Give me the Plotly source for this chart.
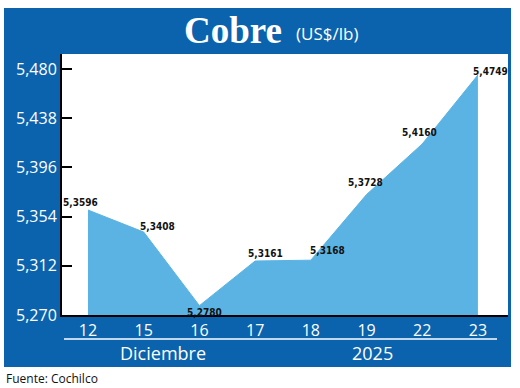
import plotly.graph_objects as go

days = ["12", "15", "16", "17", "18", "19", "22", "23"]
values = [5.3596, 5.3408, 5.2780, 5.3161, 5.3168, 5.3728, 5.4160, 5.4749]
labels = ["5,3596", "5,3408", "5,2780", "5,3161", "5,3168", "5,3728", "5,4160", "5,4749"]
ytick_vals = [5.270, 5.312, 5.354, 5.396, 5.438, 5.480]
ytick_text = ["5,270", "5,312", "5,354", "5,396", "5,438", "5,480"]

# label offsets (style only)
lab_dx = [-8, 14, 5, 10, 17, -1, -3, 13]
lab_dy = [8, 6, -7, 8, 10, 12, 11, 3]

W, H = 520, 388
L, R, T, B = 62, 12, 54, 73
pw, ph = W - L - R, H - T - B

def px(x):
    return (x - L) / pw

def py(y):
    return (H - B - y) / ph

BLUE = "#0b63ad"
FILL = "#5ab3e3"

xs = list(range(len(days)))
fig = go.Figure()
fig.add_trace(go.Scatter(x=xs, y=values, mode="lines", fill="tozeroy",
                         line=dict(color=FILL, width=1), fillcolor=FILL,
                         hoverinfo="skip", showlegend=False))

ann = []
for i, (v, t) in enumerate(zip(values, labels)):
    ann.append(dict(x=xs[i], y=v, xref="x", yref="y", text=t, showarrow=False,
                    xshift=lab_dx[i], yshift=lab_dy[i],
                    font=dict(family="DejaVu Sans Condensed", size=10,
                              color="#111111", weight="bold")))

ann += [
    dict(x=px(284), y=py(31), xref="paper", yref="paper", text="<b>Cobre</b>", showarrow=False,
         xanchor="right", yanchor="middle",
         font=dict(family="Liberation Serif", size=37, color="white")),
    dict(x=px(294), y=py(33), xref="paper", yref="paper", text="(US$/lb)", showarrow=False,
         xanchor="left", yanchor="middle",
         font=dict(family="Open Sans", size=17, color="white")),
    dict(x=px(163), y=py(353), xref="paper", yref="paper", text="Diciembre", showarrow=False,
         xanchor="center", yanchor="middle",
         font=dict(family="Open Sans", size=18, color="white")),
    dict(x=px(372), y=py(353), xref="paper", yref="paper", text="2025", showarrow=False,
         xanchor="center", yanchor="middle",
         font=dict(family="Open Sans", size=18, color="white")),
    dict(x=px(4), y=py(378), xref="paper", yref="paper", text="Fuente: Cochilco", showarrow=False,
         xanchor="left", yanchor="middle",
         font=dict(family="Open Sans", size=12, color="#111111")),
]

shapes = [
    dict(type="rect", xref="paper", yref="paper", x0=px(4), x1=px(511), y0=py(8), y1=py(367),
         fillcolor=BLUE, line=dict(width=0), layer="below"),
    dict(type="rect", xref="paper", yref="paper", x0=px(60), x1=px(508), y0=py(54), y1=py(315),
         fillcolor="white", line=dict(width=0), layer="below"),
    dict(type="line", xref="paper", yref="paper", x0=px(64), x1=px(497), y0=py(339), y1=py(339),
         line=dict(color="white", width=1.5)),
]

fig.update_layout(
    width=W, height=H, margin=dict(l=L, r=R, t=T, b=B),
    paper_bgcolor="white", plot_bgcolor="rgba(0,0,0,0)",
    annotations=ann, shapes=shapes, showlegend=False,
    xaxis=dict(range=[-0.467, 7.54], tickvals=xs, ticktext=days, showgrid=False, zeroline=False,
               showline=True, linecolor="black", linewidth=2, ticks="",
               tickfont=dict(family="Open Sans", size=16, color="white"), fixedrange=True),
    yaxis=dict(range=[5.27, 5.4928], tickvals=ytick_vals, ticktext=ytick_text, showgrid=False,
               zeroline=False, showline=True, linecolor="black", linewidth=2,
               ticks="inside", ticklen=10, tickwidth=2, tickcolor="black",
               tickfont=dict(family="Open Sans", size=16, color="white"), fixedrange=True),
)

fig.write_html("out.html", config={"displayModeBar": False},
               post_script="document.body.style.margin='0';document.body.style.overflow='hidden';")
